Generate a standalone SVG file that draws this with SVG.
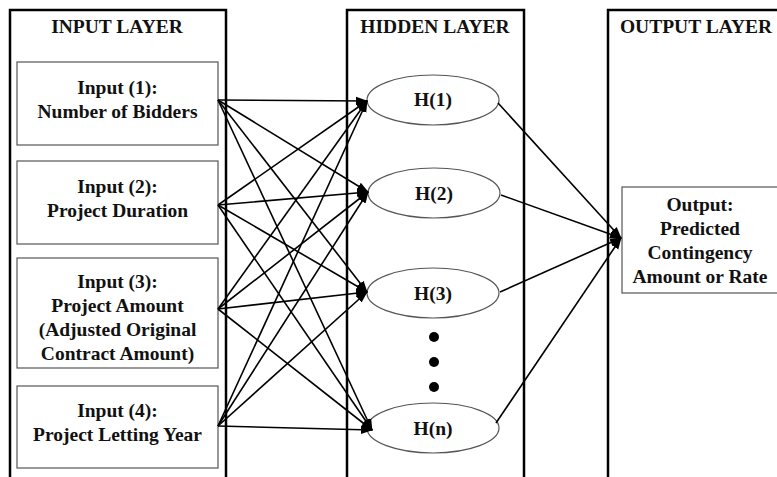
<svg xmlns="http://www.w3.org/2000/svg" width="777" height="477" viewBox="0 0 777 477">
<style>
.col{fill:none;stroke:#000;stroke-width:2.5}
.box{fill:#fff;stroke:#555;stroke-width:1.2}
.t{font-family:"Liberation Serif","Times New Roman",serif;font-weight:bold;font-size:19.5px;fill:#111;text-anchor:middle}
.c{fill:none;stroke:#000;stroke-width:1.6;marker-end:url(#ah)}
</style>
<defs>
<marker id="ah" markerUnits="userSpaceOnUse" markerWidth="12" markerHeight="10" viewBox="0 0 12 10" refX="11" refY="5" orient="auto">
<path d="M0,0.8 L12,5 L0,9.2 z" fill="#000"/>
</marker>
</defs>
<g id="input-layer">
<rect class="col" x="10" y="10" width="216" height="480"/>
<text class="t" x="117" y="33">INPUT LAYER</text>
</g>
<g id="hidden-layer">
<rect class="col" x="347" y="10" width="177" height="480"/>
<text class="t" x="435" y="33">HIDDEN LAYER</text>
</g>
<g id="output-layer">
<rect class="col" x="608" y="10" width="190" height="480"/>
<text class="t" x="696" y="33">OUTPUT LAYER</text>
</g>
<g id="input1">
<rect class="box" x="17" y="62" width="201" height="83"/>
<text class="t" x="117.5" y="94">Input (1):</text>
<text class="t" x="117.5" y="118">Number of Bidders</text>
</g>
<g id="input2">
<rect class="box" x="17" y="161" width="201" height="83"/>
<text class="t" x="117.5" y="193">Input (2):</text>
<text class="t" x="117.5" y="217">Project Duration</text>
</g>
<g id="input3">
<rect class="box" x="17" y="258" width="201" height="110"/>
<text class="t" x="117.5" y="288">Input (3):</text>
<text class="t" x="117.5" y="312">Project Amount</text>
<text class="t" x="117.5" y="336">(Adjusted Original</text>
<text class="t" x="117.5" y="360">Contract Amount)</text>
</g>
<g id="input4">
<rect class="box" x="17" y="386" width="201" height="82"/>
<text class="t" x="117.5" y="417">Input (4):</text>
<text class="t" x="117.5" y="441">Project Letting Year</text>
</g>
<g id="h1">
<ellipse class="box" cx="433" cy="100" rx="66" ry="25"/>
<text class="t" x="433" y="106">H(1)</text>
</g>
<g id="h2">
<ellipse class="box" cx="434" cy="193" rx="66" ry="25"/>
<text class="t" x="434" y="200">H(2)</text>
</g>
<g id="h3">
<ellipse class="box" cx="433" cy="293" rx="66" ry="25"/>
<text class="t" x="433" y="300">H(3)</text>
</g>
<g id="dots">
<circle cx="434" cy="337" r="5" fill="#000"/>
<circle cx="434" cy="362" r="5" fill="#000"/>
<circle cx="434" cy="387" r="5" fill="#000"/>
</g>
<g id="hn">
<ellipse class="box" cx="433" cy="428" rx="66" ry="25"/>
<text class="t" x="433" y="435">H(n)</text>
</g>
<g id="output">
<rect class="box" x="622" y="187" width="170" height="106"/>
<text class="t" x="700" y="211">Output:</text>
<text class="t" x="700" y="235">Predicted</text>
<text class="t" x="700" y="259">Contingency</text>
<text class="t" x="700" y="283">Amount or Rate</text>
</g>
<g id="connectors">
<line class="c" x1="218" y1="100" x2="367" y2="101"/>
<line class="c" x1="218" y1="100" x2="368" y2="192"/>
<line class="c" x1="218" y1="100" x2="367" y2="292"/>
<line class="c" x1="218" y1="100" x2="372" y2="430"/>
<line class="c" x1="218" y1="205" x2="367" y2="101"/>
<line class="c" x1="218" y1="205" x2="368" y2="192"/>
<line class="c" x1="218" y1="205" x2="367" y2="292"/>
<line class="c" x1="218" y1="205" x2="372" y2="430"/>
<line class="c" x1="218" y1="309" x2="367" y2="101"/>
<line class="c" x1="218" y1="309" x2="368" y2="192"/>
<line class="c" x1="218" y1="309" x2="367" y2="292"/>
<line class="c" x1="218" y1="309" x2="372" y2="430"/>
<line class="c" x1="218" y1="426" x2="367" y2="101"/>
<line class="c" x1="218" y1="426" x2="368" y2="192"/>
<line class="c" x1="218" y1="426" x2="367" y2="292"/>
<line class="c" x1="218" y1="426" x2="372" y2="430"/>
<line class="c" x1="498" y1="103" x2="621" y2="238"/>
<line class="c" x1="501" y1="195" x2="621" y2="238"/>
<line class="c" x1="500" y1="292" x2="621" y2="238"/>
<line class="c" x1="496" y1="423" x2="621" y2="238"/>
</g>
</svg>
